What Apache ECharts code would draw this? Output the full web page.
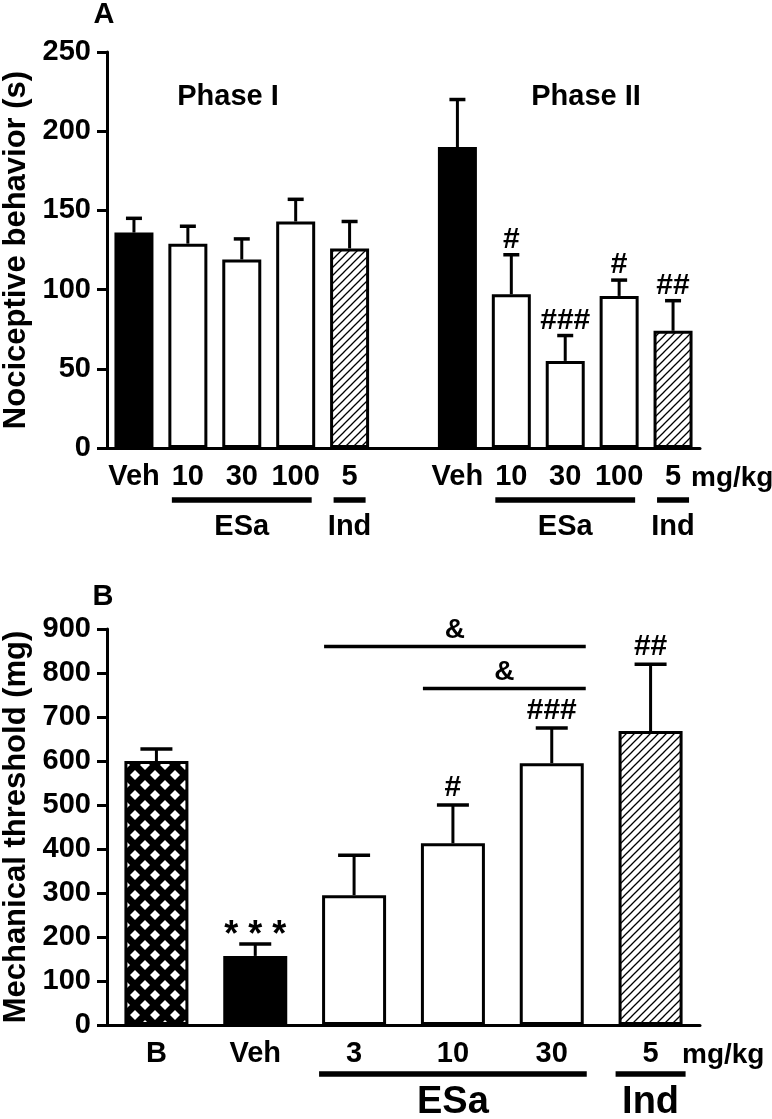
<!DOCTYPE html>
<html>
<head>
<meta charset="utf-8">
<script src="https://cdn.jsdelivr.net/npm/echarts@6/dist/echarts.min.js"></script>
<style>
html, body { margin: 0; padding: 0; background: #fff; }
#chart { width: 772px; height: 1119px; }
</style>
</head>
<body>
<div id="chart"></div>
<script>
var FONT = '"Liberation Sans", Arial, Helvetica, sans-serif';

// panel A - nociceptive behaviour, phase I and phase II
var catsA = ['Veh', '10', '30', '100', '5', '', 'Veh', '10', '30', '100', '5'];
var meanA = [136, 129, 119, 143, 126, null, 190, 97, 55, 96, 74];
var semA = [9, 11, 13, 14, 17, null, 30, 25, 16, 10, 19];
var signA = ['', '', '', '', '', '', '', '#', '###', '#', '##'];
var kindA = ['veh', 'esa', 'esa', 'esa', 'ind', '', 'veh', 'esa', 'esa', 'esa', 'ind'];
var groupsA = [[1, 3], [4, 4], [7, 9], [10, 10]];
var groupNamesA = ['ESa', 'Ind', 'ESa', 'Ind'];
var ticksA = [0, 50, 100, 150, 200, 250];

// panel B - mechanical threshold
var catsB = ['B', 'Veh', '3', '10', '30', '5'];
var meanB = [600, 157, 295, 413, 595, 668];
var semB = [27, 27, 91, 87, 80, 152];
var signB = ['', '* * *', '', '#', '###', '##'];
var kindB = ['base', 'veh', 'esa', 'esa', 'esa', 'ind'];
var groupsB = [[2, 4], [5, 5]];
var groupNamesB = ['ESa', 'Ind'];
var bracketsB = [[2, 4, 860], [3, 4, 765]];
var bracketSignB = ['&', '&'];
var ticksB = [0, 100, 200, 300, 400, 500, 600, 700, 800, 900];

// fill patterns
function hatch() {
    var c = document.createElement('canvas');
    c.width = 8; c.height = 8;
    var g = c.getContext('2d');
    g.fillStyle = '#fff';
    g.fillRect(0, 0, 8, 8);
    g.strokeStyle = '#000';
    g.lineWidth = 1.3;
    g.beginPath();
    g.moveTo(-1, 9); g.lineTo(9, -1);
    g.moveTo(-5, 5); g.lineTo(5, -5);
    g.moveTo(3, 13); g.lineTo(13, 3);
    g.stroke();
    return c;
}
function diamonds() {
    var c = document.createElement('canvas');
    c.width = 20; c.height = 20;
    var g = c.getContext('2d');
    g.fillStyle = '#000';
    g.fillRect(0, 0, 20, 20);
    g.fillStyle = '#fff';
    var h = 5;
    [[5, 5], [15, 15]].forEach(function (p) {
        g.beginPath();
        g.moveTo(p[0], p[1] - h); g.lineTo(p[0] + h, p[1]);
        g.lineTo(p[0], p[1] + h); g.lineTo(p[0] - h, p[1]);
        g.closePath();
        g.fill();
    });
    return c;
}
var hatchImg = hatch();
var diamondImg = diamonds();

function fillFor(kind) {
    if (kind == 'veh') return '#000';
    if (kind == 'ind') return { image: hatchImg, repeat: 'repeat' };
    if (kind == 'base') return { image: diamondImg, repeat: 'repeat' };
    return '#fff';
}

function barData(means, kinds) {
    return means.map(function (v, i) {
        if (v == null) return '-';
        return { value: v, itemStyle: { color: fillFor(kinds[i]) } };
    });
}

function errorSeries(gi, means, sems, signs, capHalf, signSize, signGap) {
    var data = [];
    for (var i = 0; i < means.length; i++) {
        if (means[i] != null) data.push([i, means[i], sems[i]]);
    }
    return {
        type: 'custom',
        xAxisIndex: gi,
        yAxisIndex: gi,
        z: 5,
        data: data,
        renderItem: function (params, api) {
            var i = api.value(0);
            var p0 = api.coord([i, api.value(1)]);
            var p1 = api.coord([i, api.value(1) + api.value(2)]);
            var ch = [
                { type: 'line', shape: { x1: p0[0], y1: p0[1], x2: p1[0], y2: p1[1] }, style: { stroke: '#000', lineWidth: 3 } },
                { type: 'line', shape: { x1: p1[0] - capHalf, y1: p1[1], x2: p1[0] + capHalf, y2: p1[1] }, style: { stroke: '#000', lineWidth: 3.5 } }
            ];
            if (signs[i]) {
                var star = signs[i].indexOf('*') >= 0;
                ch.push({
                    type: 'text', x: p1[0], y: p1[1] - signGap + (star ? 9 : 0),
                    style: { text: signs[i], fill: '#000', font: 'bold ' + (star ? 36 : signSize) + 'px ' + FONT, align: 'center', verticalAlign: 'middle' }
                });
            }
            return { type: 'group', children: ch };
        }
    };
}

function groupSeries(gi, groups, names, ext, lineOff, textOff, textSize) {
    return {
        type: 'custom',
        xAxisIndex: gi,
        yAxisIndex: gi,
        z: 5,
        data: groups,
        renderItem: function (params, api) {
            var a = api.coord([api.value(0), 0]);
            var b = api.coord([api.value(1), 0]);
            var y = a[1];
            return {
                type: 'group',
                children: [
                    { type: 'line', shape: { x1: a[0] - ext, y1: y + lineOff, x2: b[0] + ext, y2: y + lineOff }, style: { stroke: '#000', lineWidth: 5.5 } },
                    { type: 'text', x: (a[0] + b[0]) / 2, y: y + textOff,
                      style: { text: names[params.dataIndex], fill: '#000', font: 'bold ' + textSize + 'px ' + FONT, align: 'center', verticalAlign: 'middle' } }
                ]
            };
        }
    };
}

function bracketSeries(gi, brackets, signs) {
    return {
        type: 'custom',
        xAxisIndex: gi,
        yAxisIndex: gi,
        z: 5,
        data: brackets,
        renderItem: function (params, api) {
            var a = api.coord([api.value(0), api.value(2)]);
            var b = api.coord([api.value(1), api.value(2)]);
            var x1 = a[0] - 30, x2 = b[0] + 34;
            return {
                type: 'group',
                children: [
                    { type: 'line', shape: { x1: x1, y1: a[1], x2: x2, y2: a[1] }, style: { stroke: '#000', lineWidth: 3.5 } },
                    { type: 'text', x: (x1 + x2) / 2, y: a[1] - 16,
                      style: { text: signs[params.dataIndex], fill: '#000', font: 'bold 28px ' + FONT, align: 'center', verticalAlign: 'middle' } }
                ]
            };
        }
    };
}

function xAxisFor(gi, cats) {
    return {
        type: 'category',
        gridIndex: gi,
        data: cats,
        axisLine: { lineStyle: { color: '#000', width: 3 } },
        axisTick: { show: false },
        axisLabel: { color: '#000', fontSize: 29, fontWeight: 'bold', fontFamily: FONT, margin: 14, interval: 0 }
    };
}

function yAxisFor(gi, ticks, name) {
    return {
        type: 'value',
        gridIndex: gi,
        min: ticks[0],
        max: ticks[ticks.length - 1],
        interval: ticks[1] - ticks[0],
        name: name,
        nameLocation: 'middle',
        nameGap: 75,
        nameTextStyle: { color: '#000', fontSize: 31, fontWeight: 'bold', fontFamily: FONT },
        axisLine: { show: true, lineStyle: { color: '#000', width: 3 } },
        axisTick: { show: true, length: 10, lineStyle: { color: '#000', width: 3 } },
        axisLabel: { color: '#000', fontSize: 29, fontWeight: 'bold', fontFamily: FONT, margin: 16 },
        splitLine: { show: false }
    };
}

var chart = echarts.init(document.getElementById('chart'), null, { renderer: 'canvas' });

var txt = function (s, x, y, size, align) {
    return {
        type: 'text', x: x, y: y,
        style: { text: s, fill: '#000', font: 'bold ' + size + 'px ' + FONT, align: align || 'center', verticalAlign: 'middle' }
    };
};

chart.setOption({
    animation: false,
    backgroundColor: '#fff',
    grid: [
        { left: 107, top: 52, width: 593, height: 396, outerBoundsMode: 'none' },
        { left: 107, top: 629, width: 593, height: 396, outerBoundsMode: 'none' }
    ],
    xAxis: [xAxisFor(0, catsA), xAxisFor(1, catsB)],
    yAxis: [
        yAxisFor(0, ticksA, 'Nociceptive behavior (s)'),
        yAxisFor(1, ticksB, 'Mechanical threshold (mg)')
    ],
    series: [
        {
            type: 'bar', xAxisIndex: 0, yAxisIndex: 0, barWidth: 39,
            itemStyle: { borderColor: '#000', borderWidth: 3 },
            data: barData(meanA, kindA)
        },
        {
            type: 'bar', xAxisIndex: 1, yAxisIndex: 1, barWidth: 64,
            itemStyle: { borderColor: '#000', borderWidth: 3 },
            data: barData(meanB, kindB)
        },
        errorSeries(0, meanA, semA, signA, 8, 30, 15),
        errorSeries(1, meanB, semB, signB, 16, 30, 17),
        groupSeries(0, groupsA, groupNamesA, 16, 52, 79, 29),
        groupSeries(1, groupsB, groupNamesB, 35, 49, 78, 38),
        bracketSeries(1, bracketsB, bracketSignB)
    ],
    graphic: [
        txt('A', 104, 15, 29),
        txt('Phase I', 228, 97, 29),
        txt('Phase II', 586, 97, 29),
        txt('mg/kg', 691, 478, 28, 'left'),
        txt('B', 103, 597, 29),
        txt('mg/kg', 682, 1055, 28, 'left')
    ]
});
</script>
</body>
</html>
